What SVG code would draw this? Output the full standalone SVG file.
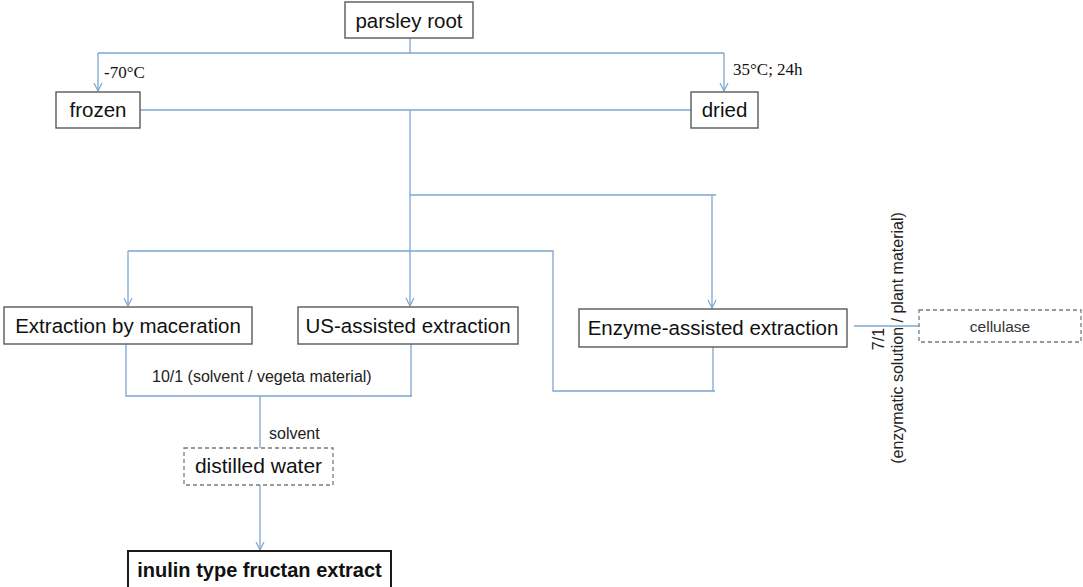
<svg xmlns="http://www.w3.org/2000/svg" width="1083" height="587" viewBox="0 0 1083 587">
<defs>
<marker id="arr" markerUnits="userSpaceOnUse" markerWidth="12" markerHeight="12" viewBox="-10 -6 12 12" refX="0" refY="0" orient="auto">
<path d="M-8,-4 L0,0 L-8,4" fill="none" stroke="#7ea6cf" stroke-width="1.2"/>
</marker>
</defs>
<style>
.box{fill:#fff;stroke:#595959;stroke-width:1.4}
.dash{fill:#fff;stroke:#7a7a7a;stroke-width:1.3;stroke-dasharray:4 3}
.bold{fill:#fff;stroke:#1a1a1a;stroke-width:2}
.c{fill:none;stroke:#7ea6cf;stroke-width:1.3}
.t{font-family:"Liberation Sans",Arial,sans-serif;font-size:20.5px;fill:#111;text-anchor:middle}
.s{font-family:"Liberation Sans",Arial,sans-serif;font-size:16px;fill:#222}
.sr{font-family:"Liberation Serif","Times New Roman",serif;font-size:17px;fill:#111}
</style>
<rect width="1083" height="587" fill="#fff"/>
<g id="connectors">
<path class="c" d="M410,38 V53"/>
<path class="c" d="M98,53 H724"/>
<path class="c" d="M98,53 V91" marker-end="url(#arr)"/>
<path class="c" d="M724,53 V91" marker-end="url(#arr)"/>
<path class="c" d="M140,110 H691"/>
<path class="c" d="M410,110 V306" marker-end="url(#arr)"/>
<path class="c" d="M410,195 H716"/>
<path class="c" d="M712,195 V308" marker-end="url(#arr)"/>
<path class="c" d="M128,251 H553 V391 H715"/>
<path class="c" d="M128,251 V306" marker-end="url(#arr)"/>
<path class="c" d="M713,347 V391"/>
<path class="c" d="M126,344 V396 H412"/>
<path class="c" d="M411,344 V396"/>
<path class="c" d="M260,396 V448"/>
<path class="c" d="M260,485 V550" marker-end="url(#arr)"/>
<path class="c" d="M854,326 H919"/>
<text class="sr" x="104" y="78">-70°C</text>
<text class="sr" x="733" y="75">35°C; 24h</text>
<text class="s" x="152" y="382">10/1 (solvent / vegeta material)</text>
<text class="s" x="269" y="439">solvent</text>
<text class="s" transform="translate(884,339) rotate(-90)" text-anchor="middle">7/1</text>
<text class="s" transform="translate(903,338) rotate(-90)" text-anchor="middle">(enzymatic solution / plant material)</text>
</g>
<g id="parsley">
<rect class="box" x="345" y="2" width="128" height="36"/>
<text class="t" x="409" y="28">parsley root</text>
</g>
<g id="frozen">
<rect class="box" x="56" y="92" width="84" height="36"/>
<text class="t" x="98" y="117">frozen</text>
</g>
<g id="dried">
<rect class="box" x="691" y="92" width="67" height="36"/>
<text class="t" x="724.5" y="117">dried</text>
</g>
<g id="maceration">
<rect class="box" x="4" y="307" width="248" height="37"/>
<text class="t" x="128" y="333">Extraction by maceration</text>
</g>
<g id="us">
<rect class="box" x="298" y="307" width="220" height="37"/>
<text class="t" x="408" y="333">US-assisted extraction</text>
</g>
<g id="enzyme">
<rect class="box" x="579" y="309" width="268" height="38"/>
<text class="t" x="713" y="335">Enzyme-assisted extraction</text>
</g>
<g id="cellulase">
<rect class="dash" x="919" y="310" width="162" height="32"/>
<text class="s" x="1000" y="332" text-anchor="middle" style="font-size:15.5px;fill:#333">cellulase</text>
</g>
<g id="water">
<rect class="dash" x="184" y="448" width="149" height="37"/>
<text class="t" x="258.5" y="473" style="font-size:21px">distilled water</text>
</g>
<g id="extract">
<rect class="bold" x="128" y="551" width="263" height="40"/>
<text class="t" x="259.5" y="577" style="font-weight:bold;font-size:20px">inulin type fructan extract</text>
</g>
</svg>
